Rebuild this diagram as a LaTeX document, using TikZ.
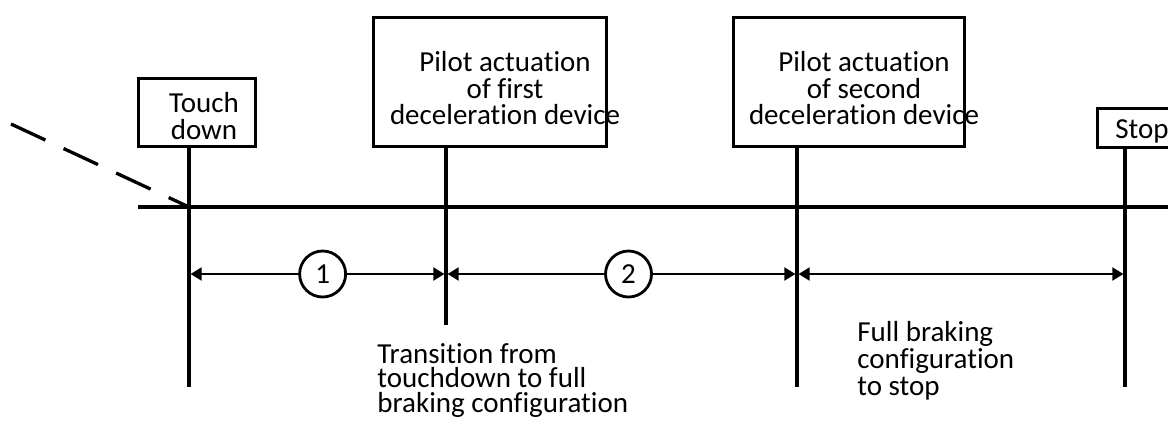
\documentclass[tikz,border=0pt]{standalone}
\usepackage{fontspec}
\setmainfont{Carlito}[Ligatures=CommonOff]
\usetikzlibrary{arrows.meta,positioning,calc}

\begin{document}
\begin{tikzpicture}[x=0.5pt, y=-0.5pt,
      font=\fontsize{14.5}{13.3}\selectfont,
      event/.style={draw, line width=1.5pt, inner sep=0pt},
      caption/.style={inner sep=0pt, align=center},
      note/.style={inner sep=0pt, align=left},
      axis/.style={line width=1.65pt},
      span/.style={line width=1pt,
        {Triangle[length=5.5pt,width=6.5pt]}-{Triangle[length=5.5pt,width=6.5pt]},
        shorten <=0.8pt, shorten >=0.8pt},
      phase/.style={circle, draw, line width=1.4pt, fill=white,
        minimum size=23pt, inner sep=0pt}]
  \useasboundingbox (0,0) rectangle (1168,420);
  \clip (0,0) rectangle (1168,420);

  % event boxes
  \node[event, minimum width=58.5pt, minimum height=34pt] (td) at (196.5,112) {};
  \node[event, minimum width=116.5pt, minimum height=64.5pt] (dev1) at (489.5,81.5) {};
  \node[event, minimum width=115.5pt, minimum height=64.5pt] (dev2) at (848.5,81.5) {};
  \node[event, minimum width=41.5pt, minimum height=19.5pt] (stop) at (1138.5,127.5) {};

  \node[caption, anchor=north] (tdtext) at (204,92) {Touch\\down};
  \node[caption, anchor=north] (dev1text) at (505,51) {Pilot actuation\\of first\\deceleration device};
  \node[caption, anchor=north] (dev2text) at (864,51) {Pilot actuation\\of second\\deceleration device};
  \node[inner sep=0pt, anchor=base west] (stoptext) at (1115,138) {Stop};

  % time line
  \coordinate (start) at (138,207);
  \coordinate (end) at (1168,207);
  \coordinate (app) at (11,124);
  \coordinate (e0) at (189,207);
  \coordinate (e1) at (446,207);
  \coordinate (e2) at (797,207);
  \coordinate (e3) at (1125,207);
  \draw[axis] (start) -- (end);
  \draw[axis, dash pattern=on 19pt off 10pt] (app) -- (e0);
  \draw[axis] (td.south -| e0) -- ($(e0)+(0,180)$);
  \draw[axis] (dev1.south -| e1) -- ($(e1)+(0,118)$);
  \draw[axis] (dev2.south -| e2) -- ($(e2)+(0,180)$);
  \draw[axis] (stop.south -| e3) -- ($(e3)+(0,180)$);

  % phases
  \coordinate (s0) at ($(e0)+(0,67)$);
  \coordinate (s1) at ($(e1)+(0,67)$);
  \coordinate (s2) at ($(e2)+(0,67)$);
  \coordinate (s3) at ($(e3)+(0,67)$);
  \path[span]
    (s0) edge node[phase, pos=0.52] (ph1) {1} (s1)
    (s1) edge node[phase, pos=0.52] (ph2) {2} (s2)
    (s2) edge (s3);

  \node[note, anchor=north west, font=\fontsize{14.5}{12.2}\selectfont] (trans) at (377,343)
    {Transition from\\touchdown to full\\braking configuration};
  \node[note, anchor=north west, font=\fontsize{14.5}{13.5}\selectfont] (full) at (857,321)
    {Full braking\\configuration\\to stop};
\end{tikzpicture}
\end{document}
